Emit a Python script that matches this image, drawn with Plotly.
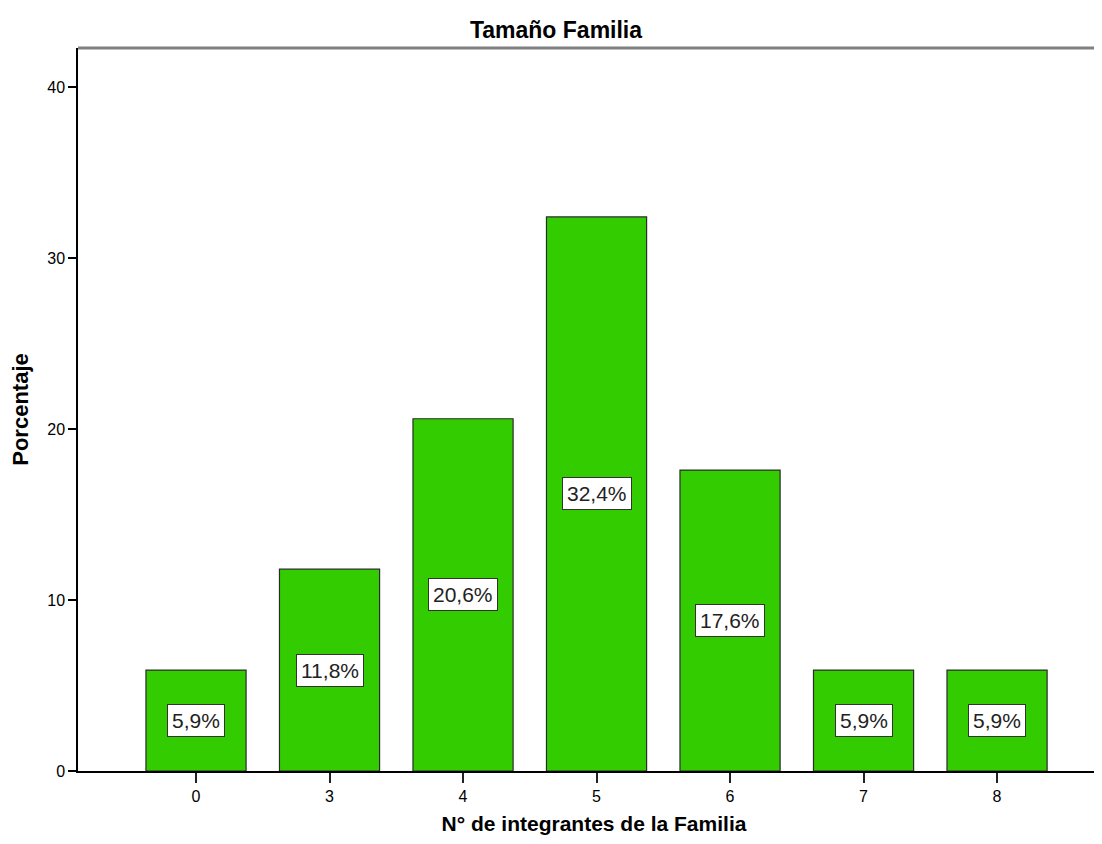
import plotly.graph_objects as go

categories = ["0", "3", "4", "5", "6", "7", "8"]
percentages = [5.9, 11.8, 20.6, 32.4, 17.6, 5.9, 5.9]
labels = ["5,9%", "11,8%", "20,6%", "32,4%", "17,6%", "5,9%", "5,9%"]
y_ticks = [0, 10, 20, 30, 40]

FONT = "Liberation Sans, Arial"

fig = go.Figure()
fig.add_trace(go.Bar(
    x=categories, y=percentages,
    marker=dict(color="#33CC00", line=dict(color="#2b2b2b", width=1.2)),
    hoverinfo="skip",
))

for i, (v, t) in enumerate(zip(percentages, labels)):
    fig.add_annotation(
        x=i, y=v / 2, text=t, showarrow=False,
        font=dict(family=FONT, size=21, color="#222"),
        bgcolor="white", bordercolor="#333", borderwidth=1, borderpad=4,
    )

# the page body has an 8px margin; compensate so the figure sits at the origin
W, H = 1102, 828
fig.update_layout(
    width=W, height=H,
    margin=dict(l=70, r=0, t=40, b=65),
    paper_bgcolor="white", plot_bgcolor="white",
    bargap=0.25,
    showlegend=False,
    title=dict(text="<b>Tamaño Familia</b>", x=(556 - 8) / W, xanchor="center",
               y=1 - 22 / H, yanchor="middle",
               font=dict(family=FONT, size=23, color="black")),
    font=dict(family=FONT, size=16, color="black"),
)

fig.update_xaxes(
    type="category", range=[-0.884, 6.846],
    showline=True, linecolor="black", linewidth=1.5,
    ticks="outside", ticklen=10, tickwidth=2, tickcolor="#222",
    showgrid=False, zeroline=False,
    tickfont=dict(family=FONT, size=16),
    title=dict(text="<b>N° de integrantes de la Familia</b>", standoff=12,
               font=dict(family=FONT, size=21)),
)
fig.update_yaxes(
    range=[0, 42.28], tickvals=y_ticks,
    showline=True, linecolor="black", linewidth=1.5,
    ticks="outside", ticklen=8, tickwidth=1.5, tickcolor="black",
    showgrid=False, zeroline=False,
    tickfont=dict(family=FONT, size=16),
    title=dict(text="<b>Porcentaje</b>", standoff=20,
               font=dict(family=FONT, size=22)),
)

fig.add_shape(type="line", xref="paper", yref="paper", x0=0, x1=1, y0=1, y1=1,
              line=dict(color="#808080", width=3))

fig.write_html("out.html")
